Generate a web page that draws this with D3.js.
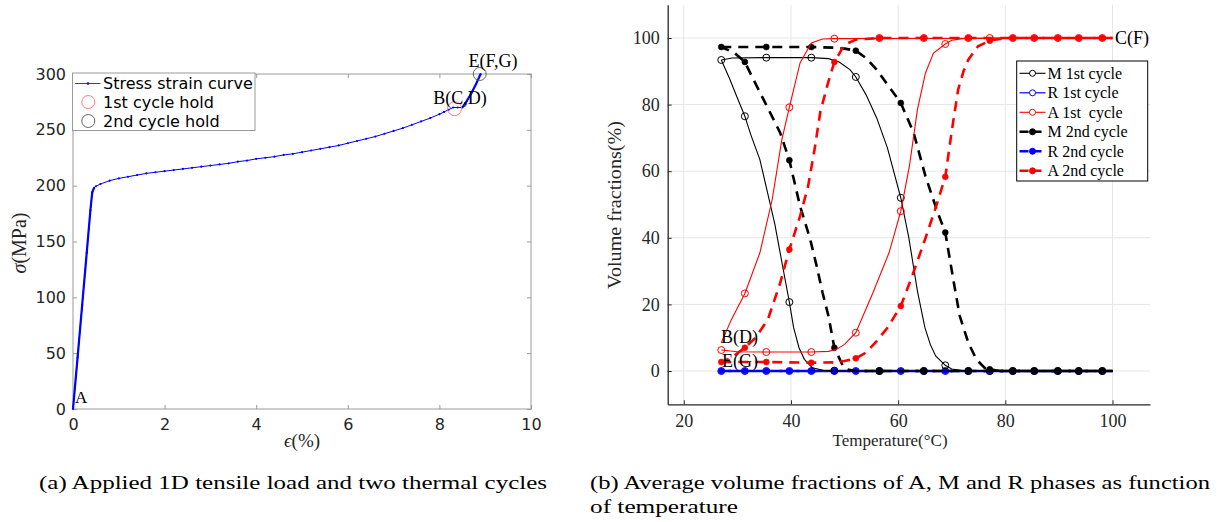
<!DOCTYPE html>
<html lang="en">
<head>
<meta charset="UTF-8">
<title>Tensile load and volume fractions</title>
<script src="https://cdn.jsdelivr.net/npm/d3@7"></script>
<style>
  body { margin: 0; background: #fff; }
  svg text { white-space: pre; }
</style>
</head>
<body>
<svg id="fig" width="1225" height="522"></svg>
<script>
// ---------- (a) stress strain curve ----------
const strain = [0, 0.1, 0.2, 0.3, 0.38, 0.42, 0.46, 0.5, 0.6, 0.8, 1.0, 1.2, 1.4, 1.6, 1.8, 2.0, 2.2, 2.4, 2.6, 2.8,
  3.0, 3.2, 3.4, 3.6, 3.8, 4.0, 4.2, 4.4, 4.6, 4.8, 5.0, 5.2, 5.4, 5.6, 5.8, 6.0, 6.2, 6.4, 6.6, 6.8,
  7.0, 7.2, 7.4, 7.6, 7.8, 8.0, 8.1, 8.2, 8.3, 8.4, 8.5, 8.6, 8.7, 8.8, 8.9];
const stress = [0, 46, 93, 140, 178, 194, 198, 199.5, 201.5, 204.5, 206.5, 208, 209.5, 211, 212, 213, 214, 215, 216, 217,
  218, 219, 220, 221.5, 222.5, 224, 225, 226, 227.5, 228.5, 230, 231.5, 233, 234.5, 236, 238, 240, 242, 244, 246.5,
  249, 251.5, 254.5, 257.5, 260.5, 264, 266, 268, 270, 270, 270, 276, 283, 291, 300];
const holdFirst = [8.33, 269];
const holdSecond = [8.88, 300];
const strainTicks = [0, 2, 4, 6, 8, 10];
const stressTicks = [0, 50, 100, 150, 200, 250, 300];

// ---------- (b) volume fractions vs temperature ----------
const markT = [27.0, 31.4, 35.4, 39.7, 43.8, 48.1, 52.1, 56.5, 60.5, 64.8, 68.8, 73.1, 77.1, 81.4, 85.4, 89.8, 93.7, 98.1];
const tempTicks = [20, 40, 60, 80, 100];
const fracTicks = [0, 20, 40, 60, 80, 100];

const m1Heat = [[27, 93.4], [29, 94], [35.4, 94.1], [43.8, 94.1], [47, 93.8], [49, 92.8], [51, 90.5], [52.1, 88.3], [54, 83],
  [56, 76], [58, 67], [60.5, 52], [62, 40], [63.6, 24], [65, 13], [66, 8], [67, 4.5], [68.8, 1.7], [70, 0.6], [72, 0.1], [75, 0], [100, 0]];
const m1Cool = [[100, 0], [48, 0], [46, 0.2], [44, 1], [42.5, 3.5], [41.5, 7], [40.5, 13], [39.7, 20.7], [38.5, 31],
  [37, 44], [36, 51], [34.2, 63.5], [32.5, 71], [31.4, 76.5], [30, 82], [28.5, 88], [27, 93.4]];
const m1Marks = [93.4, 76.5, 94.1, 20.7, 94.1, 0.1, 88.3, 0, 52, 0, 1.7, 0, 0, 0, 0, 0, 0, 0];

const m2Heat = [[27, 97.3], [35.4, 97.3], [43.8, 97.3], [48, 97.1], [50, 96.8], [52.1, 96.2], [54, 94], [56, 90.5], [58, 86],
  [60.5, 80.5], [62.9, 71.5], [65.1, 58.5], [67.4, 47.5], [68.8, 41.6], [70.4, 26.5], [71.5, 16.5], [73.1, 8.5],
  [74.6, 3.5], [76.1, 1], [77.1, 0.5], [79, 0], [100, 0]];
const m2Cool = [[100, 0], [52, 0], [50.5, 0.5], [49.7, 1.5], [48.1, 7], [47, 16.5], [45.9, 23.5], [44.8, 31.5], [43.6, 39.5],
  [41.7, 49.5], [39.7, 63.3], [38, 71.5], [34.9, 81.5], [32.7, 88.5], [31.4, 92.8], [29.5, 95.5], [27, 97.3]];
const m2Marks = [97.3, 92.8, 97.3, 63.3, 97.3, 7, 96.2, 0, 80.5, 0, 41.6, 0, 0.5, 0, 0, 0, 0, 0];

const a1Heat = [[27, 6.3], [30, 5.8], [35.4, 5.7], [43.8, 5.7], [47, 5.9], [48.5, 6.5], [50, 8], [52.1, 11.5], [55.3, 23.5],
  [58.3, 35.5], [60.5, 48], [62.1, 61.5], [63.6, 78.5], [65.1, 89.5], [66.6, 95.5], [68.8, 98.2], [70, 99.3], [72, 99.8],
  [77.1, 100], [100, 100]];
const a1Cool = [[100, 100], [48.1, 99.8], [45.9, 99.7], [43.8, 98.5], [41.7, 92.5], [39.7, 79.2], [38.3, 69.5], [36.5, 51.5],
  [34.2, 35.5], [31.4, 23.3], [28.9, 15.5], [27, 8.5]];
const a1Marks = [6.3, 23.3, 5.7, 79.2, 5.7, 99.8, 11.5, 100, 48, 100, 98.2, 100, 100, 100, 100, 100, 100, 100];

const a2Heat = [[27, 2.7], [35.4, 2.7], [43.8, 2.5], [48.1, 2.6], [50, 3], [52.1, 3.8], [54, 5.5], [56, 9], [58, 13],
  [60.5, 19.5], [62.5, 28], [64.8, 38.5], [66.8, 48], [68.8, 58.3], [70, 72], [71.2, 84.5], [72.2, 90], [73.1, 93.5],
  [74.9, 97.5], [77.1, 99.2], [80, 100], [100, 100]];
const a2Cool = [[100, 100], [56.5, 100], [52.1, 99.5], [50, 98], [48.1, 92.8], [47, 87], [45.5, 78], [44.4, 66.5],
  [43.2, 55.5], [41.7, 46.5], [39.7, 36.5], [38, 26.5], [35.7, 15.5], [33.4, 10], [31.4, 7], [28.9, 4], [27, 2.7]];
const a2Marks = [2.7, 7, 2.7, 36.5, 2.5, 92.8, 3.8, 100, 19.5, 100, 58.3, 100, 99.2, 100, 100, 100, 100, 100];

const rHeat = [[27, 0], [100, 0]];
const rCool = [[100, 0], [27, 0]];
const rMarks = [0, 0, 0, 0, 0, 0, 0, 0, 0, 0, 0, 0, 0, 0, 0, 0, 0, 0];

const svg = d3.select("#fig");
svg.append("rect").attr("width", 1225).attr("height", 522).attr("fill", "#fff");

const sans = "'DejaVu Sans', sans-serif";
const serif = "'Liberation Serif', 'Times New Roman', serif";

// ================= panel (a) =================
const xa = d3.scaleLinear().domain([0, 10]).range([73, 531]);
const ya = d3.scaleLinear().domain([0, 300]).range([409, 74]);
const boxColor = "#9a9a9a";

function styleAxis(g, font, size) {
  g.select(".domain").remove();
  g.selectAll(".tick line").attr("stroke", boxColor);
  g.selectAll(".tick text").attr("fill", "#262626").style("font-family", font).style("font-size", size + "px");
}

svg.append("g").attr("transform", "translate(0,409)")
  .call(d3.axisBottom(xa).tickValues(strainTicks).tickSize(-4).tickPadding(10))
  .call(g => styleAxis(g, sans, 16));
svg.append("g").attr("transform", "translate(0,74)")
  .call(d3.axisTop(xa).tickValues(strainTicks).tickSize(-4).tickFormat(""))
  .call(g => styleAxis(g, sans, 16));
svg.append("g").attr("transform", "translate(73,0)")
  .call(d3.axisLeft(ya).tickValues(stressTicks).tickSize(-4).tickPadding(7))
  .call(g => styleAxis(g, sans, 16));
svg.append("g").attr("transform", "translate(531,0)")
  .call(d3.axisRight(ya).tickValues(stressTicks).tickSize(-4).tickFormat(""))
  .call(g => styleAxis(g, sans, 16));

svg.append("rect")
  .attr("x", 73).attr("y", 74).attr("width", 531 - 73).attr("height", 409 - 74)
  .attr("fill", "none").attr("stroke", boxColor).attr("stroke-width", 1);

const curve = strain.map((s, i) => [s, stress[i]]);
const lineA = d3.line().x(d => xa(d[0])).y(d => ya(d[1]));
svg.append("path")
  .datum(curve)
  .attr("fill", "none").attr("stroke", "#0000ff").attr("stroke-width", 1)
  .attr("d", lineA);
// dense parts (elastic loading, second reload) look heavier in the original
[curve.filter(d => d[0] <= 0.46), curve.filter(d => d[0] >= 8.5)].forEach(part => {
  svg.append("path").datum(part)
    .attr("fill", "none").attr("stroke", "#0000ff").attr("stroke-width", 2.2)
    .attr("d", lineA);
});
svg.append("g").selectAll("circle")
  .data(curve).join("circle")
  .attr("cx", d => xa(d[0])).attr("cy", d => ya(d[1])).attr("r", 1.1).attr("fill", "#0000ff");

svg.append("circle").attr("cx", xa(holdFirst[0])).attr("cy", ya(holdFirst[1])).attr("r", 7)
  .attr("fill", "none").attr("stroke", "#ff6b6b").attr("stroke-width", 0.9);
svg.append("circle").attr("cx", xa(holdSecond[0])).attr("cy", ya(holdSecond[1])).attr("r", 6.5)
  .attr("fill", "none").attr("stroke", "#555").attr("stroke-width", 0.9);

svg.append("text").attr("x", 75).attr("y", 402.5).text("A")
  .style("font-family", serif).style("font-size", "17px");
svg.append("text").attr("x", 460).attr("y", 103.5).attr("text-anchor", "middle").text("B(C,D)")
  .style("font-family", serif).style("font-size", "18px");
svg.append("text").attr("x", 493).attr("y", 67).attr("text-anchor", "middle").text("E(F,G)")
  .style("font-family", serif).style("font-size", "18px");

// axis labels (a)
svg.append("text")
  .attr("transform", "translate(26,243) rotate(-90)")
  .attr("text-anchor", "middle")
  .style("font-family", serif).style("font-size", "20px").attr("fill", "#262626")
  .call(t => { t.append("tspan").style("font-style", "italic").text("σ"); t.append("tspan").text("(MPa)"); });
svg.append("text")
  .attr("x", 302).attr("y", 447).attr("text-anchor", "middle")
  .style("font-family", serif).style("font-size", "19px").attr("fill", "#262626")
  .call(t => { t.append("tspan").style("font-style", "italic").text("ϵ"); t.append("tspan").text("(%)"); });

// legend (a)
const legA = svg.append("g");
legA.append("rect").attr("x", 72.5).attr("y", 73).attr("width", 182.5).attr("height", 57.5)
  .attr("fill", "#fff").attr("stroke", boxColor).attr("stroke-width", 1);
legA.append("line").attr("x1", 75).attr("x2", 100.5).attr("y1", 83.5).attr("y2", 83.5)
  .attr("stroke", "#0000ff").attr("stroke-width", 0.8);
legA.append("circle").attr("cx", 88).attr("cy", 83.5).attr("r", 1.3).attr("fill", "#0000ff");
legA.append("circle").attr("cx", 88.3).attr("cy", 102).attr("r", 6.5).attr("fill", "none").attr("stroke", "#ff6b6b").attr("stroke-width", 0.9);
legA.append("circle").attr("cx", 88.3).attr("cy", 121).attr("r", 6.5).attr("fill", "none").attr("stroke", "#555").attr("stroke-width", 0.9);
[["Stress strain curve", 83.5], ["1st cycle hold", 102], ["2nd cycle hold", 121]].forEach(([lab, yy]) => {
  legA.append("text").attr("x", 103).attr("y", yy).attr("dy", "0.35em").text(lab)
    .style("font-family", sans).style("font-size", "16px").attr("fill", "#000");
});

// ================= panel (b) =================
const xb = d3.scaleLinear().domain([17, 107]).range([667.7, 1150]);
const yb = d3.scaleLinear().domain([-10, 110]).range([404.3, 4.7]);

// grid
svg.append("g").selectAll("line").data(tempTicks).join("line")
  .attr("x1", d => xb(d)).attr("x2", d => xb(d)).attr("y1", yb(110)).attr("y2", yb(-10))
  .attr("stroke", "#e6e6e6").attr("stroke-width", 1);
svg.append("g").selectAll("line").data(fracTicks).join("line")
  .attr("x1", xb(17)).attr("x2", xb(107)).attr("y1", d => yb(d)).attr("y2", d => yb(d))
  .attr("stroke", "#e6e6e6").attr("stroke-width", 1);

function styleAxisB(g) {
  g.select(".domain").attr("stroke", "#262626").attr("stroke-width", 1.3);
  g.selectAll(".tick line").attr("stroke", "#262626");
  g.selectAll(".tick text").attr("fill", "#262626").style("font-family", serif).style("font-size", "18px");
}
svg.append("g").attr("transform", `translate(0,${yb(-10)})`)
  .call(d3.axisBottom(xb).tickValues(tempTicks).tickSize(-4).tickSizeOuter(0).tickPadding(10))
  .call(styleAxisB);
svg.append("g").attr("transform", `translate(${xb(17)},0)`)
  .call(d3.axisLeft(yb).tickValues(fracTicks).tickSize(-4).tickSizeOuter(0).tickPadding(8))
  .call(styleAxisB);

const seriesB = [
  { name: "R 1st cycle", color: "#0000ff", width: 1.2, dash: null, filled: false, heat: rHeat, cool: rCool, marks: rMarks },
  { name: "R 2nd cycle", color: "#0000ff", width: 2.6, dash: "10,7", filled: true, heat: rHeat, cool: rCool, marks: rMarks },
  { name: "M 1st cycle", color: "#000000", width: 1.1, dash: null, filled: false, heat: m1Heat, cool: m1Cool, marks: m1Marks },
  { name: "M 2nd cycle", color: "#000000", width: 2.6, dash: "10,7", filled: true, heat: m2Heat, cool: m2Cool, marks: m2Marks },
  { name: "A 1st  cycle", color: "#ff0000", width: 1.1, dash: null, filled: false, heat: a1Heat, cool: a1Cool, marks: a1Marks },
  { name: "A 2nd cycle", color: "#ff0000", width: 2.6, dash: "10,7", filled: true, heat: a2Heat, cool: a2Cool, marks: a2Marks }
];
const lineB = d3.line().x(d => xb(d[0])).y(d => yb(d[1]));

seriesB.forEach(s => {
  [s.heat, s.cool].forEach(branch => {
    svg.append("path").datum(branch)
      .attr("fill", "none").attr("stroke", s.color).attr("stroke-width", s.width)
      .attr("stroke-dasharray", s.dash)
      .attr("d", lineB);
  });
  svg.append("g").selectAll("circle")
    .data(markT.map((t, i) => [t, s.marks[i]])).join("circle")
    .attr("cx", d => xb(d[0])).attr("cy", d => yb(d[1]))
    .attr("r", s.filled ? 3 : 3.5)
    .attr("fill", s.filled ? s.color : "none")
    .attr("stroke", s.color).attr("stroke-width", s.filled ? 0.5 : 1);
});

svg.append("text").attr("x", 1115).attr("y", 44).text("C(F)")
  .style("font-family", serif).style("font-size", "18px");
svg.append("text").attr("x", 721).attr("y", 343).text("B(D)")
  .style("font-family", serif).style("font-size", "18px");
svg.append("text").attr("x", 722).attr("y", 366.5).text("E(G)")
  .style("font-family", serif).style("font-size", "18px");

// axis labels (b)
svg.append("text").attr("transform", "translate(621,205) rotate(-90)").attr("text-anchor", "middle")
  .text("Volume fractions(%)").attr("textLength", 168).attr("lengthAdjust", "spacingAndGlyphs")
  .style("font-family", serif).style("font-size", "19px").attr("fill", "#262626");
svg.append("text").attr("x", 890).attr("y", 446).attr("text-anchor", "middle")
  .text("Temperature(°C)")
  .style("font-family", serif).style("font-size", "17px").attr("fill", "#262626");

// legend (b)
const legOrder = ["M 1st cycle", "R 1st cycle", "A 1st  cycle", "M 2nd cycle", "R 2nd cycle", "A 2nd cycle"];
const legB = svg.append("g");
legB.append("rect").attr("x", 1016.7).attr("y", 61).attr("width", 131).attr("height", 120)
  .attr("fill", "#fff").attr("stroke", "#000").attr("stroke-width", 1);
legOrder.forEach((nm, i) => {
  const s = seriesB.find(d => d.name === nm);
  const yy = 73.3 + i * 19.5;
  legB.append("line").attr("x1", 1019.5).attr("x2", 1045.5).attr("y1", yy).attr("y2", yy)
    .attr("stroke", s.color).attr("stroke-width", s.width).attr("stroke-dasharray", s.dash ? "9,4" : null);
  legB.append("circle").attr("cx", 1032.5).attr("cy", yy).attr("r", 3)
    .attr("fill", s.filled ? s.color : "#fff").attr("stroke", s.color).attr("stroke-width", 1);
  legB.append("text").attr("x", 1047.5).attr("y", yy).attr("dy", "0.35em").text(nm)
    .style("font-family", serif).style("font-size", "16px").attr("fill", "#000");
});

// ================= captions =================
const caps = [
  { text: "(a) Applied 1D tensile load and two thermal cycles", x: 39, y: 489, w: 508 },
  { text: "(b) Average volume fractions of A, M and R phases as function", x: 590, y: 489, w: 620 },
  { text: "of temperature", x: 590, y: 513, w: 148 }
];
caps.forEach(c => {
  svg.append("text").attr("x", c.x).attr("y", c.y).text(c.text)
    .attr("textLength", c.w).attr("lengthAdjust", "spacingAndGlyphs")
    .style("font-family", serif).style("font-size", "18px").attr("fill", "#000");
});
</script>
</body>
</html>
